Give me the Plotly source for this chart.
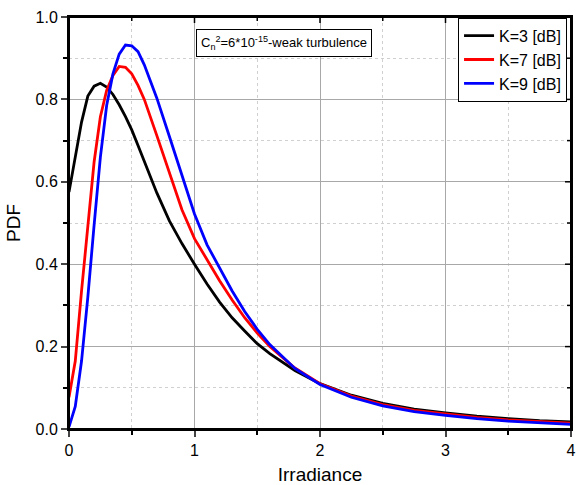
import plotly.graph_objects as go

irradiance = [0, 0.05, 0.1, 0.15, 0.2, 0.25, 0.3, 0.35, 0.4, 0.45, 0.5, 0.55, 0.6, 0.7, 0.8, 0.9,
              1.0, 1.1, 1.2, 1.3, 1.4, 1.5, 1.6, 1.8, 2.0, 2.25, 2.5, 2.75, 3.0, 3.25, 3.5, 3.75, 4.0]

pdf_k3 = [0.575, 0.66, 0.745, 0.808, 0.832, 0.839, 0.83, 0.812, 0.787, 0.758, 0.726, 0.688, 0.648, 0.573,
          0.505, 0.45, 0.40, 0.352, 0.308, 0.27, 0.238, 0.207, 0.183, 0.142, 0.11, 0.082, 0.062, 0.048,
          0.039, 0.031, 0.025, 0.02, 0.017]

pdf_k7 = [0.077, 0.165, 0.335, 0.495, 0.648, 0.758, 0.822, 0.858, 0.88, 0.878, 0.862, 0.834, 0.80, 0.712,
          0.62, 0.532, 0.462, 0.41, 0.36, 0.313, 0.27, 0.233, 0.20, 0.148, 0.11, 0.08, 0.059, 0.045,
          0.036, 0.028, 0.022, 0.018, 0.014]

pdf_k9 = [0.005, 0.055, 0.165, 0.32, 0.495, 0.66, 0.785, 0.862, 0.91, 0.932, 0.93, 0.916, 0.884, 0.803,
          0.71, 0.615, 0.522, 0.447, 0.39, 0.335, 0.285, 0.242, 0.205, 0.147, 0.108, 0.077, 0.056, 0.042,
          0.033, 0.025, 0.019, 0.015, 0.011]

series = [("K=3 [dB]", pdf_k3, "#000000"),
          ("K=7 [dB]", pdf_k7, "#ff0000"),
          ("K=9 [dB]", pdf_k9, "#0000ff")]

x_major = [0, 1, 2, 3, 4]
x_minor = [0.5, 1.5, 2.5, 3.5]
y_major = [0, 0.2, 0.4, 0.6, 0.8, 1.0]
y_minor = [0.1, 0.3, 0.5, 0.7, 0.9]

FONT = "Liberation Sans, Arial, sans-serif"

fig = go.Figure()
for name, vals, col in series:
    fig.add_trace(go.Scatter(x=irradiance, y=vals, mode="lines", name=name,
                             line=dict(color=col, width=2.8)))

major_grid = "#a8a8a8"
minor_grid = "#d0d0d0"

fig.update_layout(
    width=577, height=485,
    margin=dict(l=69, r=6, t=17, b=56),
    paper_bgcolor="white", plot_bgcolor="white",
    font=dict(family=FONT, size=16, color="black"),
    showlegend=True,
    legend=dict(x=0.775, y=0.998, xanchor="left", yanchor="top",
                bordercolor="black", borderwidth=1, bgcolor="white",
                font=dict(size=16), tracegroupgap=0, itemwidth=30),
    xaxis=dict(range=[0, 4], tickvals=x_major, ticks="outside", ticklen=6, tickwidth=1.5,
               showline=True, linecolor="black", linewidth=2, mirror=True,
               showgrid=True, gridcolor=major_grid, gridwidth=1,
               zeroline=False, automargin=False,
               minor=dict(tickvals=x_minor, ticks="outside", ticklen=4, tickwidth=1.5, tickcolor="black",
                          showgrid=True, gridcolor=minor_grid, griddash="dot", gridwidth=1),
               title=dict(text="Irradiance", standoff=14),
               tickfont=dict(size=16)),
    yaxis=dict(range=[0, 1.0], tickvals=y_major, tickformat=".1f", ticks="outside", ticklen=6,
               tickwidth=1.5,
               showline=True, linecolor="black", linewidth=2, mirror=True,
               showgrid=True, gridcolor=major_grid, gridwidth=1,
               zeroline=False, automargin=False,
               minor=dict(tickvals=y_minor, ticks="outside", ticklen=4, tickwidth=1.5, tickcolor="black",
                          showgrid=True, gridcolor=minor_grid, griddash="dot", gridwidth=1),
               title=dict(text="PDF", standoff=10),
               tickfont=dict(size=16)),
)

# top and right frame with inward ticks (axis decoration)
frame = [dict(type="rect", xref="paper", yref="paper", x0=0, x1=1, y0=0, y1=1,
              line=dict(color="black", width=2), fillcolor="rgba(0,0,0,0)", layer="above")]
for v, ln in [(t, 6) for t in x_major] + [(t, 4) for t in x_minor]:
    frame.append(dict(type="line", xref="x", yref="paper", x0=v, x1=v, y0=0, y1=-ln,
                      ysizemode="pixel", yanchor=1, line=dict(color="black", width=1.5),
                      layer="above"))
for v, ln in [(t, 6) for t in y_major] + [(t, 4) for t in y_minor]:
    frame.append(dict(type="line", xref="paper", yref="y", x0=0, x1=-ln, y0=v, y1=v,
                      xsizemode="pixel", xanchor=1, line=dict(color="black", width=1.5),
                      layer="above"))
fig.update_layout(shapes=frame)

fig.add_annotation(
    xref="paper", yref="paper", x=0.252, y=0.972, xanchor="left", yanchor="top",
    text="C<sub>n</sub><sup>2</sup>=6*10<sup>-15</sup>-weak turbulence",
    showarrow=False, font=dict(family=FONT, size=13, color="black"),
    bordercolor="black", borderwidth=1, borderpad=4, bgcolor="white", align="left")

fig.write_html("out.html")
